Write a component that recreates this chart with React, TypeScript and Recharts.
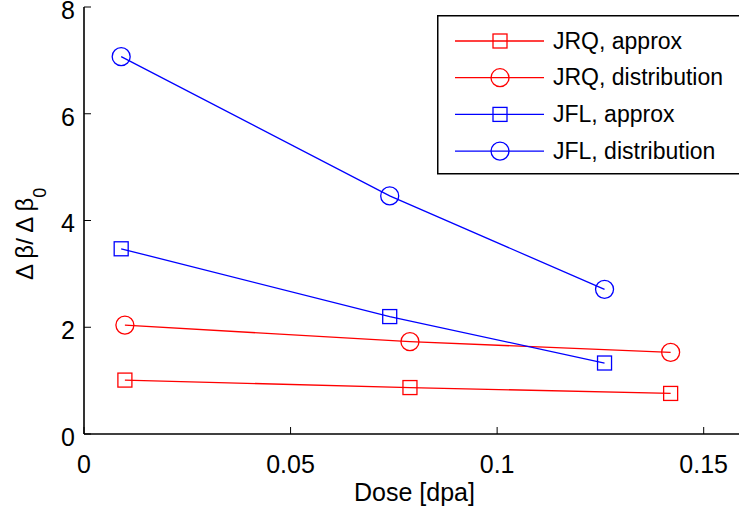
import React from 'react';
import { LineChart, Line, XAxis, YAxis, Legend } from 'recharts';

// ---- data ----
const doseJRQ = [0.0099, 0.0789, 0.142];
const doseJFL = [0.009, 0.074, 0.126];
const jrqApprox = [1.01, 0.87, 0.76];
const jrqDistribution = [2.04, 1.73, 1.53];
const jflApprox = [3.47, 2.2, 1.33];
const jflDistribution = [7.07, 4.46, 2.71];

const xTicks = [0, 0.05, 0.1, 0.15];
const yTicks = [0, 2, 4, 6, 8];
const seriesNames = ['JRQ, approx', 'JRQ, distribution', 'JFL, approx', 'JFL, distribution'];

const toPoints = (xs: number[], ys: number[]) => xs.map((x, i) => ({ dose: x, value: ys[i] }));

const RED = '#ff0000';
const BLUE = '#0000ff';
const FONT = '"Liberation Sans", Arial, Helvetica, sans-serif';

const series = [
  { name: seriesNames[0], color: RED, marker: 'square', data: toPoints(doseJRQ, jrqApprox) },
  { name: seriesNames[1], color: RED, marker: 'circle', data: toPoints(doseJRQ, jrqDistribution) },
  { name: seriesNames[2], color: BLUE, marker: 'square', data: toPoints(doseJFL, jflApprox) },
  { name: seriesNames[3], color: BLUE, marker: 'circle', data: toPoints(doseJFL, jflDistribution) },
];

const Marker = ({ cx, cy, color, marker }: any) =>
  marker === 'square' ? (
    <rect x={cx - 7} y={cy - 7} width={14} height={14} fill="none" stroke={color} strokeWidth={1.3} />
  ) : (
    <circle cx={cx} cy={cy} r={9} fill="none" stroke={color} strokeWidth={1.3} />
  );

const makeDot = (color: string, marker: string) => (props: any) => {
  const { cx, cy, index } = props;
  if (cx == null || cy == null) return <g key={`e${index}`} />;
  return (
    <g key={`d${index}`}>
      <Marker cx={cx} cy={cy} color={color} marker={marker} />
    </g>
  );
};

const LegendBox = () => (
  <svg width={340} height={160} style={{ display: 'block' }}>
    <rect x={0.75} y={0.75} width={338} height={158} fill="#fff" stroke="#000" strokeWidth={1.5} />
    {series.map((s, i) => {
      const cy = 26 + i * 36.7;
      return (
        <g key={s.name}>
          <line x1={18} x2={107} y1={cy} y2={cy} stroke={s.color} strokeWidth={1.3} />
          <Marker cx={63} cy={cy} color={s.color} marker={s.marker} />
          <text x={116} y={cy + 7.6} fontSize={23} fontFamily={FONT} fill="#000">
            {s.name}
          </text>
        </g>
      );
    })}
  </svg>
);

const axisLine = { stroke: '#000', strokeWidth: 1.6 };
const tickLine = { stroke: '#000', strokeWidth: 1 };
const tickStyle = { fill: '#000', fontSize: 25, fontFamily: FONT };

const YTick = (p: any) => (
  <text
    x={p.x}
    y={p.y + 3}
    dy="0.355em"
    textAnchor="end"
    fontSize={25}
    fontFamily={FONT}
    fill="#000"
  >
    {p.payload.value}
  </text>
);

export default function App() {
  return (
    <div
      style={{
        position: 'absolute',
        left: 0,
        top: 0,
        width: 739,
        height: 510,
        overflow: 'hidden',
        background: '#fff',
      }}
    >
      <LineChart width={800} height={510} margin={{ top: 7, right: 55, bottom: 0, left: 0 }}>
        <XAxis
          xAxisId="b"
          type="number"
          dataKey="dose"
          domain={[0, 0.16]}
          ticks={xTicks}
          orientation="bottom"
          height={76}
          tickSize={-7}
          tickMargin={28}
          axisLine={axisLine}
          tickLine={tickLine}
          tick={tickStyle}
          interval={0}
          label={{
            content: (p: any) => {
              const vb = p.viewBox || { x: 84, width: 661 };
              return (
                <text
                  x={vb.x + vb.width / 2}
                  y={501}
                  textAnchor="middle"
                  fontSize={25}
                  fontFamily={FONT}
                  fill="#000"
                >
                  Dose [dpa]
                </text>
              );
            },
          }}
        />
        <XAxis
          xAxisId="t"
          type="number"
          domain={[0, 0.16]}
          ticks={xTicks}
          orientation="top"
          height={0}
          tickSize={-7}
          axisLine={axisLine}
          tickLine={tickLine}
          tick={false}
          interval={0}
        />
        <YAxis
          yAxisId="l"
          type="number"
          domain={[0, 8]}
          ticks={yTicks}
          width={84}
          tickSize={-7}
          tickMargin={16}
          axisLine={axisLine}
          tickLine={tickLine}
          tick={YTick}
          interval={0}
          label={{
            content: () => (
              <text
                x={33}
                y={280}
                transform="rotate(-90 33 280)"
                textAnchor="start"
                fontSize={24}
                fontFamily={FONT}
                fill="#000"
              >
                Δ β/ Δ β
                <tspan fontSize={18} dy={13}>
                  0
                </tspan>
              </text>
            ),
          }}
        />
        <YAxis
          yAxisId="r"
          type="number"
          orientation="right"
          domain={[0, 8]}
          ticks={yTicks}
          width={0}
          tickSize={-7}
          axisLine={axisLine}
          tickLine={tickLine}
          tick={false}
          interval={0}
        />
        <Legend
          content={<LegendBox />}
          layout="vertical"
          align="center"
          verticalAlign="middle"
          wrapperStyle={{ top: 15, left: 437, width: 340, height: 160 }}
        />
        {series.map((s) => (
          <Line
            key={s.name}
            xAxisId="b"
            yAxisId="l"
            data={s.data}
            dataKey="value"
            name={s.name}
            stroke={s.color}
            strokeWidth={1.3}
            dot={makeDot(s.color, s.marker)}
            activeDot={false}
            isAnimationActive={false}
          />
        ))}
      </LineChart>
    </div>
  );
}
